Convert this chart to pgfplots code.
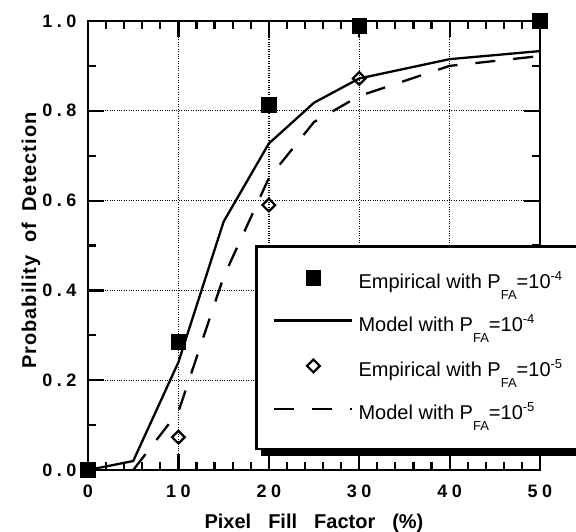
\documentclass[border=0pt]{standalone}
\usepackage{fontspec}
\setmainfont{Liberation Sans}
\newfontfamily\tickfont[LetterSpace=25]{Liberation Sans Bold}
\newfontfamily\ylabfont[LetterSpace=5]{Liberation Sans Bold}
\newfontfamily\xlabfont{Liberation Sans Bold}
\usepackage{pgfplots}
\pgfplotsset{compat=1.18}
\usetikzlibrary{shadows}
\makeatletter
\tikzset{nopre/.code={\let\tikz@preactions=\pgfutil@empty}}
\makeatother
\newcommand{\PFA}[1]{P\raisebox{-11bp}{\fontsize{13bp}{13bp}\selectfont FA}=10\raisebox{8bp}{\fontsize{13bp}{13bp}\selectfont #1}}
\pgfplotsset{
  legmark/.style={legend image code/.code={\draw[nopre,mark repeat=2,mark phase=2,##1] plot coordinates {(0bp,6bp) (39bp,6bp) (78bp,6bp)};}},
  legline/.style={legend image code/.code={\draw[nopre,##1] (0bp,6bp) -- (78bp,6bp);}},
}
\begin{document}
\begin{tikzpicture}
\begin{axis}[name=ax, scale only axis, width=452bp, height=449bp,
  xmin=0, xmax=50, ymin=0, ymax=1,
  clip=false,
  axis line style={line width=2.5bp},
  tick style={black, line width=2.2bp},
  major tick length=16bp, minor tick length=8bp,
  tick align=inside,
  xtick={0,10,20,30,40,50}, xticklabels={0,10,20,30,40,50},
  ytick={0,0.2,0.4,0.6,0.8,1.0}, yticklabels={0.0,0.2,0.4,0.6,0.8,1.0},
  minor x tick num=4, minor y tick num=1,
  xmajorgrids, ymajorgrids,
  major grid style={black, dotted, line width=1.4bp},
  tick label style={font=\tickfont\fontsize{18bp}{20bp}\selectfont},
  xticklabel style={yshift=-11bp},
  yticklabel style={xshift=-8bp},
  xlabel={Pixel\hspace{17bp}Fill\hspace{17bp}Factor\hspace{17bp}(\%)},
  xlabel style={font=\xlabfont\fontsize{20bp}{24bp}\selectfont, at={(axis description cs:0.5,-0.1292)}, anchor=base},
  ylabel={Probability\hspace{13bp}of\hspace{11bp}Detection},
  ylabel style={font=\ylabfont\fontsize{20bp}{24bp}\selectfont, at={(axis description cs:-0.1150,0.511)}, anchor=base},
  legend cell align=left,
  legend style={at={(axis description cs:0.3695,0.501)}, anchor=north west,
    draw=black, line width=2.5bp, fill=white,
    font=\fontsize{20bp}{24bp}\selectfont,
    inner xsep=17bp, inner ysep=24bp,
    nodes={inner sep=0bp, text height=15bp, text depth=5bp},
    row sep=23bp, column sep=5bp,
    drop shadow={shadow xshift=5bp, shadow yshift=-7bp, fill=black, opacity=1}},
]
\addplot[only marks, mark=square*, mark size=7.3bp, mark options={line width=0.5bp, fill=black, draw=black}, legmark]
  coordinates {(0,0) (10,0.285) (20,0.813) (30,0.99) (50,1.0)};
\addlegendentry{Empirical with \PFA{-4}\hspace*{30bp}}
\addplot[black, line width=2.3bp, no marks, legline]
  coordinates {(0,0) (5,0.02) (10,0.24) (15,0.553) (20,0.727) (25,0.818) (30,0.872) (40,0.915) (50,0.933)};
\addlegendentry{Model with \PFA{-4}}
\addplot[only marks, mark=square, mark size=4.5bp, mark options={rotate=45, line width=2.2bp, fill=white, draw=black}, legmark]
  coordinates {(10,0.073) (20,0.59) (30,0.872)};
\addlegendentry{Empirical with \PFA{-5}}
\addplot[black, line width=2.3bp, no marks, dash pattern=on 20bp off 18bp, legline]
  coordinates {(5,0) (10,0.13) (15,0.43) (20,0.65) (25,0.775) (30,0.833) (40,0.9) (50,0.922)};
\addlegendentry{Model with \PFA{-5}}
\end{axis}
\pgfresetboundingbox
\path[use as bounding box] ([xshift=-88bp,yshift=-61bp]ax.south west) rectangle ([xshift=36bp,yshift=21bp]ax.north east);
\end{tikzpicture}
\end{document}
